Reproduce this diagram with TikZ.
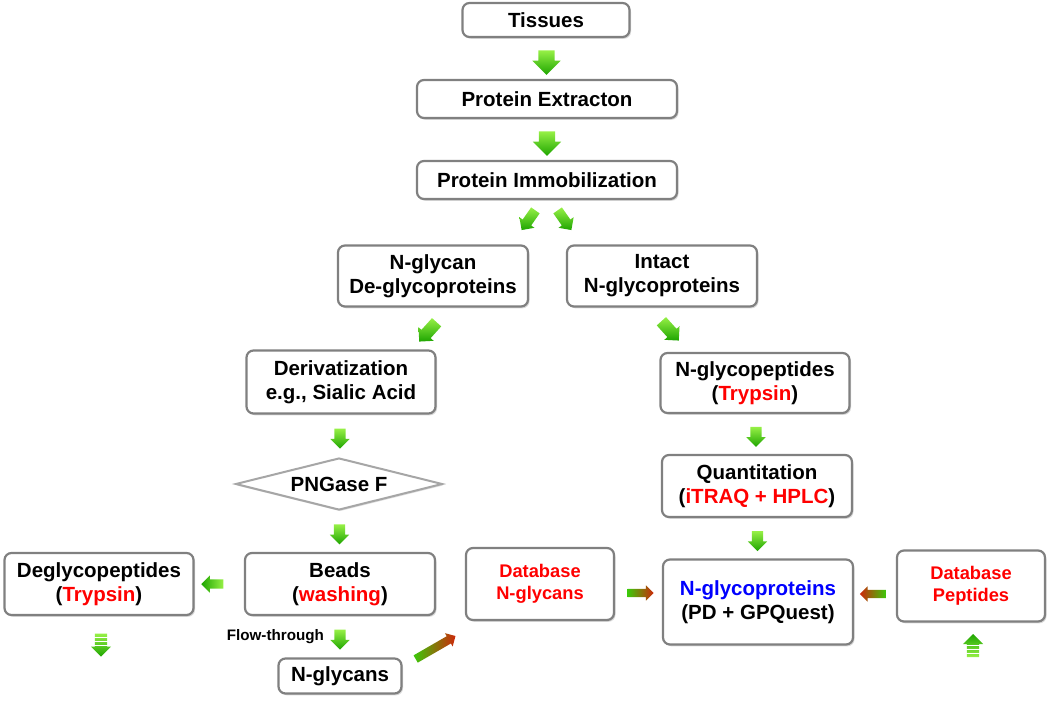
\documentclass[tikz,border=0pt]{standalone}
\usepackage{fontspec}
\setmainfont{Liberation Sans}
\usetikzlibrary{shapes.arrows,shapes.geometric,shadows,calc}
\definecolor{bordergray}{RGB}{128,128,128}
\definecolor{glight}{RGB}{150,240,70}
\definecolor{gdark}{RGB}{30,165,0}
\definecolor{gmid}{RGB}{60,200,10}
\definecolor{tred}{RGB}{255,0,0}
\definecolor{dred}{RGB}{205,40,10}
\definecolor{tblue}{RGB}{0,0,255}
\newcommand\mainfnt{\fontsize{20.5}{24}\selectfont\bfseries}
\newcommand\dbfnt{\fontsize{18.3}{22}\selectfont\bfseries}
\newcommand\smfnt{\fontsize{15.2}{17}\selectfont\bfseries}
\tikzset{
  box/.style={draw=bordergray, line width=2.2pt, rounded corners=7pt, fill=white,
    align=center, font=\mainfnt, inner sep=2pt,
    drop shadow={shadow xshift=1.5pt, shadow yshift=-1.8pt, opacity=0.3}},
  dbbox/.style={box, font=\dbfnt, text=tred},
  garr/.style={single arrow, draw=none, inner sep=5.5pt, minimum width=19pt,
    minimum height=20pt, single arrow head extend=4pt,
    top color=glight, bottom color=gdark},
  bigarr/.style={garr, inner sep=8pt, minimum width=28pt, minimum height=22pt, single arrow head extend=6pt},
  diagarr/.style={single arrow, draw=none, inner sep=6pt, minimum width=20pt,
    minimum height=26pt, single arrow head extend=4pt,
    top color=glight, bottom color=gdark},
  harr/.style={single arrow, draw=none, inner sep=4.5pt, minimum width=17pt,
    minimum height=22pt, single arrow head extend=4pt,
    left color=gdark, right color=glight},
  gradr/.style={single arrow, draw=none, inner sep=4pt, minimum width=15pt,
    minimum height=26pt, single arrow head extend=3.5pt,
    left color=gmid, right color=dred},
  gradl/.style={gradr, left color=dred, right color=gmid},
  stripe/.style={white, line width=1.3pt}
}
\begin{document}
\begin{tikzpicture}[x=1pt,y=-1pt]
\useasboundingbox (0,0) rectangle (1050,701);
% boxes
\node[box, minimum width=167pt, minimum height=34pt] (tis) at (546,20) {Tissues};
\node[box, minimum width=260pt, minimum height=38pt] (ext) at (547,99) {Protein Extracton};
\node[box, minimum width=260pt, minimum height=38pt] (imm) at (547,180) {Protein Immobilization};
\node[box, minimum width=190pt, minimum height=61pt] (ngd) at (433,276) {N-glycan\\De-glycoproteins};
\node[box, minimum width=190pt, minimum height=61pt] (int) at (662,276) {Intact\\N-glycoproteins};
\node[box, minimum width=189pt, minimum height=63pt] (der) at (341,382) {Derivatization\\e.g., Sialic Acid};
\node[box, minimum width=189pt, minimum height=60pt] (ngp) at (755,383) {N-glycopeptides\\(\textcolor{tred}{Trypsin})};
\node[diamond, draw=bordergray!70, line width=2pt, fill=white, aspect=4, inner sep=0pt,
  minimum width=207pt, minimum height=52pt, font=\mainfnt,
  drop shadow={shadow xshift=1pt, shadow yshift=-1.5pt, opacity=0.25}] (png) at (339,484) {PNGase F};
\node[box, minimum width=190pt, minimum height=62pt] (qua) at (757,486) {Quantitation\\(\textcolor{tred}{iTRAQ + HPLC})};
\node[box, minimum width=190pt, minimum height=62pt] (bea) at (340,584) {Beads\\(\textcolor{tred}{washing})};
\node[box, minimum width=189pt, minimum height=62pt] (deg) at (99,584) {Deglycopeptides\\(\textcolor{tred}{Trypsin})};
\node[dbbox, minimum width=148pt, minimum height=72pt] (dbn) at (540,584) {Database\\N-glycans};
\node[box, minimum width=190pt, minimum height=85pt] (ngl) at (758,602) {\textcolor{tblue}{N-glycoproteins}\\(PD + GPQuest)};
\node[dbbox, minimum width=148pt, minimum height=71pt] (dbp) at (971,586) {Database\\Peptides};
\node[box, minimum width=123pt, minimum height=35pt] (nglyc) at (340,676) {N-glycans};
% arrows
\node[bigarr, shape border rotate=270] (a1) at ($(tis.south)!0.5!(ext.north)$) {};
\node[bigarr, shape border rotate=270] (a2) at ($(ext.south)!0.5!(imm.north)$) {};
\node[diagarr, inner sep=5pt, minimum width=18pt, minimum height=24pt, rotate=235] (vl) at ($(imm.south)+(-17,18)$) {};
\node[diagarr, inner sep=5pt, minimum width=18pt, minimum height=24pt, rotate=305] (vr) at ($(imm.south)+(16,18)$) {};
\node[diagarr, rotate=228] (a3) at ($(ngd.south)+(-3,22)$) {};
\node[diagarr, rotate=312] (a4) at ($(int.south)+(6,21)$) {};
\node[garr, shape border rotate=270] (a5) at ($(der.south)!0.5!(png.north)$) {};
\node[garr, shape border rotate=270] (a6) at ($(ngp.south)!0.5!(qua.north)$) {};
\node[garr, shape border rotate=270] (a7) at ($(png.south)!0.5!(bea.north)$) {};
\node[garr, shape border rotate=270] (a8) at ($(qua.south)!0.5!(ngl.north)$) {};
\node[harr, shape border rotate=180] (a9) at ($(deg.east)+(20,0)$) {};
\node[garr, shape border rotate=270] (a10) at ($(bea.south)!0.5!(nglyc.north)$) {};
\node[font=\smfnt, anchor=east, inner sep=0pt] (fth) at ($(a10.west)+(-10,0)$) {Flow-through};
\node[gradr, minimum width=14pt, minimum height=46pt, rotate=30] (a11) at ($(nglyc.east)!0.5!(dbn.south west)$) {};
\node[gradr] (a12) at ($(dbn.east)!0.5!(ngl.west)$) {};
\node[gradl, shape border rotate=180] (a13) at ($(ngl.east)!0.5!(dbp.west)$) {};
% striped arrows
\node[garr, inner sep=6pt, minimum width=19pt, minimum height=23pt, shape border rotate=270] (a14) at ($(deg.south)+(2,26)$) {};
\foreach \d in {4,8,12} \draw[stripe] ($(a14.tail)+(-8,\d)$) -- ++(16,0);
\node[garr, inner sep=6pt, minimum width=19pt, minimum height=23pt, shape border rotate=90,
  top color=gdark, bottom color=glight] (a15) at ($(dbp.south)+(2,26)$) {};
\foreach \d in {-4,-8,-12} \draw[stripe] ($(a15.tail)+(-8,\d)$) -- ++(16,0);
\end{tikzpicture}
\end{document}
